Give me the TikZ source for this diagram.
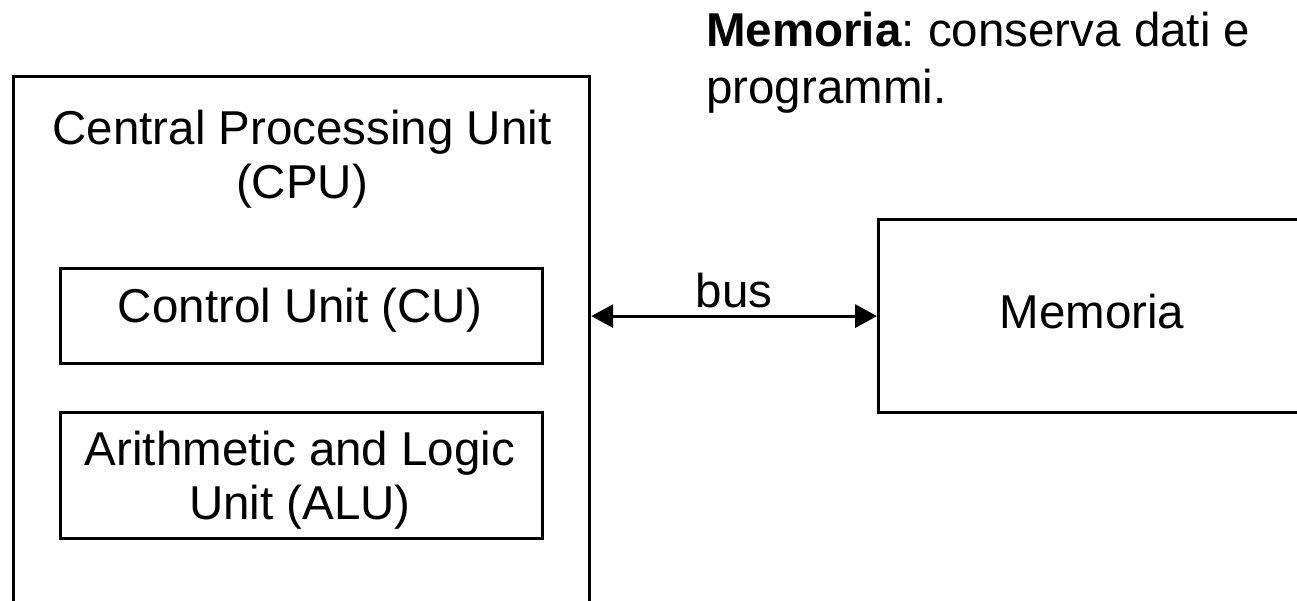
\documentclass[tikz,border=0pt]{standalone}
\usepackage{fontspec}
\setmainfont{Liberation Sans}
\usetikzlibrary{arrows.meta}
\frenchspacing
\begin{document}
\begin{tikzpicture}[x=1pt,y=-1pt,
  lbl/.style={font=\fontsize{47.5}{56}\selectfont\frenchspacing, inner sep=0pt, align=center},
  box/.style={draw, line width=3.2pt, inner sep=0pt},
  bustip/.tip={Triangle[length=22pt,width=23pt]}]
\clip (0,0) rectangle (1297,601);
\fill[white] (0,0) rectangle (1297,601);
% CPU
\node[box, minimum width=576pt, minimum height=600pt, anchor=north west] (cpu) at (12,75) {};
\node[lbl, anchor=base] (cputxt) at (302,145) {Central Processing Unit};
\node[lbl, anchor=base] (cputxt2) at (302,199) {(CPU)};
% CU
\node[box, minimum width=482pt, minimum height=95pt, anchor=north west] (cu) at (59,267) {};
\node[lbl, anchor=base] (cutxt) at (300,322) {Control Unit (CU)};
% ALU
\node[box, minimum width=482pt, minimum height=126pt, anchor=north west] (alu) at (59,411) {};
\node[lbl, anchor=base] (alutxt) at (300,465) {Arithmetic and Logic};
\node[lbl, anchor=base] (alutxt2) at (300,519) {Unit (ALU)};
% Memoria
\node[box, minimum width=430pt, minimum height=193pt, anchor=north west] (mem) at (877,218) {};
\node[lbl, anchor=base] (memtxt) at (1092,328) {Memoria};
% bus
\draw[line width=3.2pt, bustip-bustip] (cpu.north east |- mem.west) -- node[lbl, anchor=base, yshift=9pt] (bus) {bus} (mem.west);
% annotation
\node[lbl, anchor=base west, align=left] (note1) at (706,47) {\textbf{Memoria}: conserva dati e};
\node[lbl, anchor=base west, align=left] (note2) at (706,104) {programmi.};
\end{tikzpicture}
\end{document}
